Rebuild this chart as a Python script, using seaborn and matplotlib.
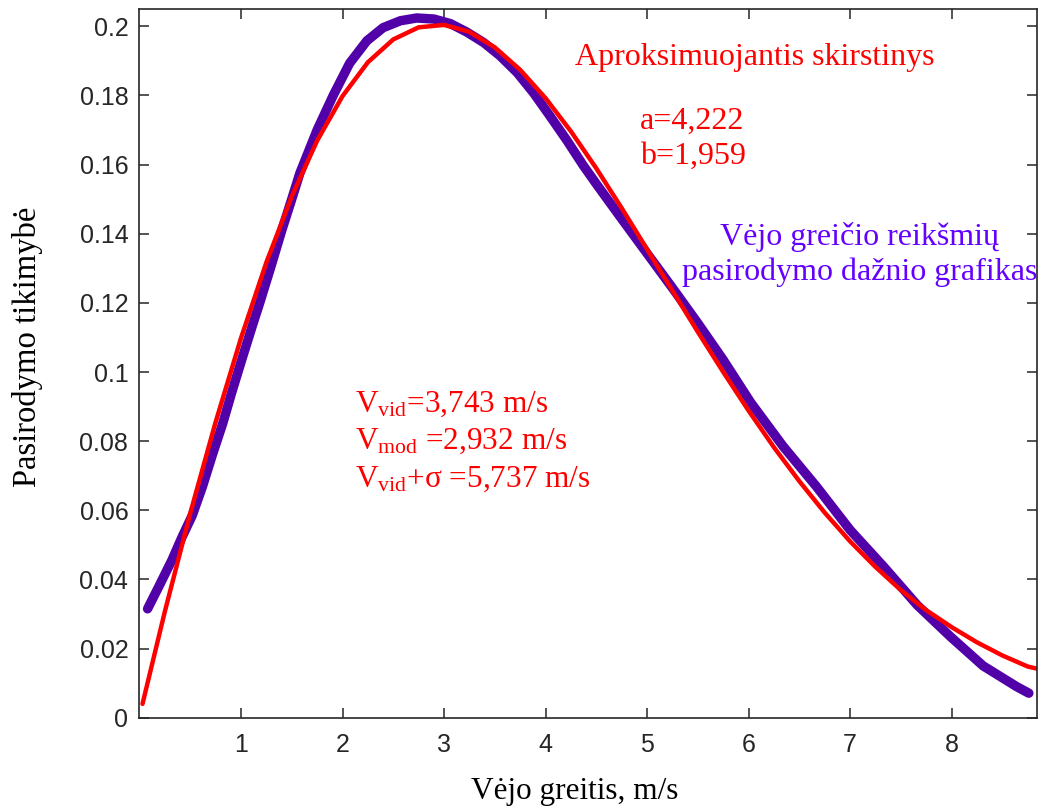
import matplotlib
matplotlib.use("Agg")
import matplotlib.pyplot as plt
import seaborn as sns

# Observed wind-speed frequency curve (m/s, probability)
speed_obs = [0.08, 0.19, 0.32, 0.42, 0.52, 0.62, 0.72, 0.82, 0.91, 1.01,
             1.11, 1.19, 1.30, 1.40, 1.50, 1.58, 1.75, 1.91, 2.07, 2.24,
             2.40, 2.57, 2.73, 2.90, 3.06, 3.22, 3.39, 3.55, 3.72, 3.88,
             4.04, 4.21, 4.37, 4.50, 4.75, 5.00, 5.25, 5.50, 5.75, 6.02,
             6.34, 6.67, 7.00, 7.33, 7.66, 7.99, 8.31, 8.64, 8.76]
freq_obs = [0.0315, 0.0379, 0.0456, 0.0523, 0.0585, 0.0668, 0.0762, 0.0851, 0.0942, 0.1038,
            0.1132, 0.1205, 0.1310, 0.1408, 0.1500, 0.1575, 0.1700, 0.1801, 0.1893, 0.1958,
            0.1996, 0.2016, 0.2024, 0.2021, 0.2008, 0.1984, 0.1953, 0.1915, 0.1866, 0.1808,
            0.1742, 0.1670, 0.1598, 0.1544, 0.1443, 0.1343, 0.1243, 0.1141, 0.1035, 0.0912,
            0.0785, 0.0668, 0.0543, 0.0437, 0.0326, 0.0234, 0.0150, 0.0090, 0.0071]

# Approximating distribution (a=4,222; b=1,959)
speed_fit = [0.03, 0.25, 0.50, 0.75, 1.00, 1.25, 1.50, 1.75, 2.00, 2.25,
             2.50, 2.75, 3.00, 3.25, 3.50, 3.75, 4.00, 4.25, 4.50, 4.75,
             5.00, 5.25, 5.50, 5.75, 6.00, 6.25, 6.50, 6.75, 7.00, 7.25,
             7.50, 7.75, 8.00, 8.25, 8.50, 8.75, 8.84]
pdf_fit = [0.0040, 0.0307, 0.0591, 0.0855, 0.1098, 0.1317, 0.1508, 0.1669, 0.1798, 0.1896,
           0.1962, 0.1997, 0.2004, 0.1984, 0.1939, 0.1874, 0.1792, 0.1696, 0.1589, 0.1474,
           0.1355, 0.1235, 0.1116, 0.1000, 0.0888, 0.0782, 0.0684, 0.0593, 0.0510, 0.0436,
           0.0369, 0.0311, 0.0262, 0.0218, 0.0180, 0.0148, 0.0142]

x_ticks = [1, 2, 3, 4, 5, 6, 7, 8]
y_ticks = [0, 0.02, 0.04, 0.06, 0.08, 0.1, 0.12, 0.14, 0.16, 0.18, 0.2]
y_tick_labels = ["0", "0.02", "0.04", "0.06", "0.08", "0.1", "0.12",
                 "0.14", "0.16", "0.18", "0.2"]

sns.set_theme(style="ticks")
plt.rcParams["font.family"] = ["Liberation Sans", "DejaVu Sans"]
plt.rcParams["mathtext.fontset"] = "custom"
plt.rcParams["mathtext.rm"] = "Liberation Serif"
plt.rcParams["mathtext.it"] = "Liberation Serif:italic"

SERIF = ["Liberation Serif", "DejaVu Serif"]
RED = "#FF0000"
VIOLET_LINE = "#5200A8"
VIOLET_TEXT = "#6400FF"
INK = "#262626"
NOTE_SIZE = 23

fig = plt.figure(figsize=(10.43, 8.11), dpi=100)
ax = fig.add_axes([0.1337, 0.1150, 0.8605, 0.8739])

sns.lineplot(x=speed_obs, y=freq_obs, ax=ax, color=VIOLET_LINE,
             linewidth=6.8, solid_capstyle="round", solid_joinstyle="round")
sns.lineplot(x=speed_fit, y=pdf_fit, ax=ax, color=RED, linewidth=3.2,
             solid_joinstyle="round")

ax.set_xlim(0, 8.84)
ax.set_ylim(0, 0.205)
ax.set_xticks(x_ticks)
ax.set_xticklabels([str(t) for t in x_ticks])
ax.set_yticks(y_ticks)
ax.set_yticklabels(y_tick_labels)

ax.tick_params(direction="in", length=7, width=1.1, top=True, right=True,
               labelsize=18, colors=INK)
ax.tick_params(axis="x", pad=11)
ax.tick_params(axis="y", pad=8)
for sp in ax.spines.values():
    sp.set_linewidth(1.2)
    sp.set_color(INK)
ax.grid(False)

ax.set_xlabel("Vėjo greitis, m/s", family=SERIF, fontsize=22.5, color="black")
ax.set_ylabel("Pasirodymo tikimybė", family=SERIF, fontsize=23.5, color="black")
ax.xaxis.set_label_coords(0.485, -0.083)
ax.yaxis.set_label_coords(-0.108, 0.523)

ax.text(4.29, 0.1910, "Aproksimuojantis skirstinys", family=SERIF,
        fontsize=NOTE_SIZE, color=RED, va="center", ha="left")
ax.text(4.93, 0.1725, "a=4,222", family=SERIF, fontsize=NOTE_SIZE, color=RED,
        va="center", ha="left")
ax.text(4.93, 0.1624, "b=1,959", family=SERIF, fontsize=NOTE_SIZE, color=RED,
        va="center", ha="left")

ax.text(7.09, 0.1390, "Vėjo greičio reikšmių", family=SERIF, fontsize=NOTE_SIZE,
        color=VIOLET_TEXT, va="center", ha="center")
ax.text(7.09, 0.1289, "pasirodymo dažnio grafikas", family=SERIF,
        fontsize=NOTE_SIZE, color=VIOLET_TEXT, va="center", ha="center")

ax.text(2.12, 0.0906, "V$_{\\mathrm{vid}}$=3,743 m/s", family=SERIF,
        fontsize=22.5, color=RED, va="center", ha="left")
ax.text(2.12, 0.0800, "V$_{\\mathrm{mod}}$ =2,932 m/s", family=SERIF,
        fontsize=22.5, color=RED, va="center", ha="left")
ax.text(2.12, 0.0690, "V$_{\\mathrm{vid}}$+σ =5,737 m/s", family=SERIF,
        fontsize=22.5, color=RED, va="center", ha="left")

fig.savefig("out.png", dpi=100, facecolor="white")
